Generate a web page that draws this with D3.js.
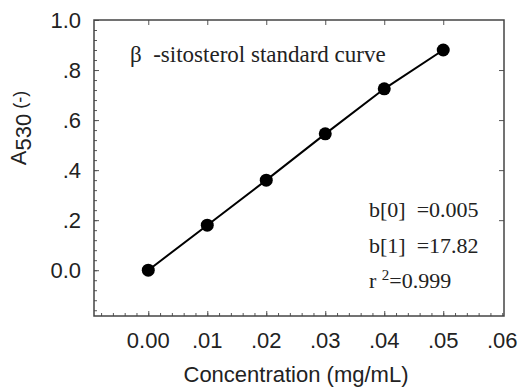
<!DOCTYPE html>
<html>
<head>
<meta charset="utf-8">
<script src="https://cdn.jsdelivr.net/npm/d3@7"></script>
<style>
  body { margin: 0; background: #fff; }
  text { fill: #222; }
</style>
</head>
<body>
<div id="chart"></div>
<script>
// beta-sitosterol standard curve, absorbance at 530 nm

// data
var concentrations = [0.00, 0.01, 0.02, 0.03, 0.04, 0.05];
var absorbances    = [0.0, 0.18, 0.36, 0.545, 0.725, 0.88];

// tick labels
var xTicks = [0.00, 0.01, 0.02, 0.03, 0.04, 0.05, 0.06];
var xTickLabels = ["0.00", ".01", ".02", ".03", ".04", ".05", ".06"];
var yTicks = [0.0, 0.2, 0.4, 0.6, 0.8, 1.0];
var yTickLabels = ["0.0", ".2", ".4", ".6", ".8", "1.0"];

// regression annotation
var statLabels = ["b[0]\u00a0 =0.005", "b[1]\u00a0 =17.82"];
var rSquared = "=0.999";

function drawChart()
  {
  var width = 521, height = 389;
  var margin = {top: 20, right: 17, bottom: 73, left: 94};
  var plotW = width - margin.left - margin.right;
  var plotH = height - margin.top - margin.bottom;

  var svg = d3.select("#chart")
    .append("svg")
    .attr("width", width)
    .attr("height", height);

  var g = svg.append("g")
    .attr("transform", "translate(" + margin.left + "," + margin.top + ")");

  var x = d3.scaleLinear().domain([-0.0092, 0.0603]).range([0, plotW]);
  var y = d3.scaleLinear().domain([-0.183, 1.0]).range([plotH, 0]);

  //minor tick values
  var xMinor = d3.range(-8, 61, 2).map(function(d) { return d / 1000; });
  var yMinor = d3.range(-4, 26, 1).map(function(d) { return d * 0.04; });

  var tickColor = "#555";
  var sans = "Liberation Sans, Arial, sans-serif";
  var serif = "Liberation Serif, Times New Roman, serif";

  // bottom axis: major + minor inward
  g.append("g")
    .attr("transform", "translate(0," + plotH + ")")
    .call(d3.axisBottom(x).tickValues(xMinor).tickSize(-3).tickFormat(""))
    .call(function(a) { a.select(".domain").remove(); a.selectAll("line").attr("stroke", tickColor); });

  g.append("g")
    .attr("transform", "translate(0," + plotH + ")")
    .call(d3.axisBottom(x).tickValues(xTicks.slice(0, 6)).tickSize(-5).tickFormat(""))
    .call(function(a) { a.select(".domain").remove(); a.selectAll("line").attr("stroke", tickColor); });

  // top axis: major only
  g.append("g")
    .call(d3.axisTop(x).tickValues(xTicks.slice(0, 6)).tickSize(-5).tickFormat(""))
    .call(function(a) { a.select(".domain").remove(); a.selectAll("line").attr("stroke", tickColor); });

  // left axis: minor
  g.append("g")
    .call(d3.axisLeft(y).tickValues(yMinor).tickSize(-3).tickFormat(""))
    .call(function(a) { a.select(".domain").remove(); a.selectAll("line").attr("stroke", tickColor); });

  g.append("g")
    .call(d3.axisLeft(y).tickValues(yTicks).tickSize(-5).tickFormat(""))
    .call(function(a) { a.select(".domain").remove(); a.selectAll("line").attr("stroke", tickColor); });

  // right axis: major only
  g.append("g")
    .attr("transform", "translate(" + plotW + ",0)")
    .call(d3.axisRight(y).tickValues(yTicks.slice(1, 5)).tickSize(-5).tickFormat(""))
    .call(function(a) { a.select(".domain").remove(); a.selectAll("line").attr("stroke", tickColor); });

  //frame
  g.append("rect")
    .attr("x", 0).attr("y", 0)
    .attr("width", plotW).attr("height", plotH)
    .attr("fill", "none")
    .attr("stroke", "#444")
    .attr("stroke-width", 1.5);

  // tick labels
  g.selectAll(".xlab")
    .data(xTicks)
    .enter()
    .append("text")
    .attr("x", function(d) { return x(d); })
    .attr("y", plotH + 32)
    .attr("text-anchor", "middle")
    .style("font-family", sans)
    .style("font-size", "22px")
    .text(function(d, i) { return xTickLabels[i]; });

  g.selectAll(".ylab")
    .data(yTicks)
    .enter()
    .append("text")
    .attr("x", -13)
    .attr("y", function(d) { return y(d); })
    .attr("dy", "0.36em")
    .attr("text-anchor", "end")
    .style("font-family", sans)
    .style("font-size", "22px")
    .text(function(d, i) { return yTickLabels[i]; });

  // axis titles
  svg.append("text")
    .attr("x", 296)
    .attr("y", 382)
    .attr("text-anchor", "middle")
    .style("font-family", sans)
    .style("font-size", "22px")
    .text("Concentration (mg/mL)");

  var yTitle = svg.append("text")
    .attr("transform", "translate(26,128) rotate(-90)")
    .attr("text-anchor", "middle")
    .style("font-family", sans)
    .style("font-size", "22px");
  yTitle.append("tspan").text("A");
  yTitle.append("tspan").attr("dy", 5).text("530");
  yTitle.append("tspan").attr("dy", -5).style("font-size", "18px").text(" (-)");

  // data line and points
  var pts = concentrations.map(function(c, i) { return [c, absorbances[i]]; });

  var line = d3.line()
    .x(function(d) { return x(d[0]); })
    .y(function(d) { return y(d[1]); });

  g.append("path")
    .datum(pts)
    .attr("d", line)
    .attr("fill", "none")
    .attr("stroke", "#000")
    .attr("stroke-width", 2);

  g.selectAll(".pt")
    .data(pts)
    .enter()
    .append("circle")
    .attr("cx", function(d) { return x(d[0]); })
    .attr("cy", function(d) { return y(d[1]); })
    .attr("r", 6.5)
    .attr("fill", "#000");

  // annotations (serif)
  svg.append("text")
    .attr("x", 130).attr("y", 62)
    .style("font-family", serif)
    .style("font-size", "23px")
    .text("\u03b2\u00a0 -sitosterol standard curve");

  svg.selectAll(".stat")
    .data(statLabels)
    .enter()
    .append("text")
    .attr("x", 369)
    .attr("y", function(d, i) { return 217 + i * 35.5; })
    .style("font-family", serif)
    .style("font-size", "22px")
    .text(function(d) { return d; });

  var r2 = svg.append("text")
    .attr("x", 369).attr("y", 288)
    .style("font-family", serif)
    .style("font-size", "22px");
  r2.append("tspan").text("r ");
  r2.append("tspan").attr("dy", -8).style("font-size", "15px").text("2");
  r2.append("tspan").attr("dy", 8).text(rSquared);

  return;
  }

drawChart();
</script>
</body>
</html>
